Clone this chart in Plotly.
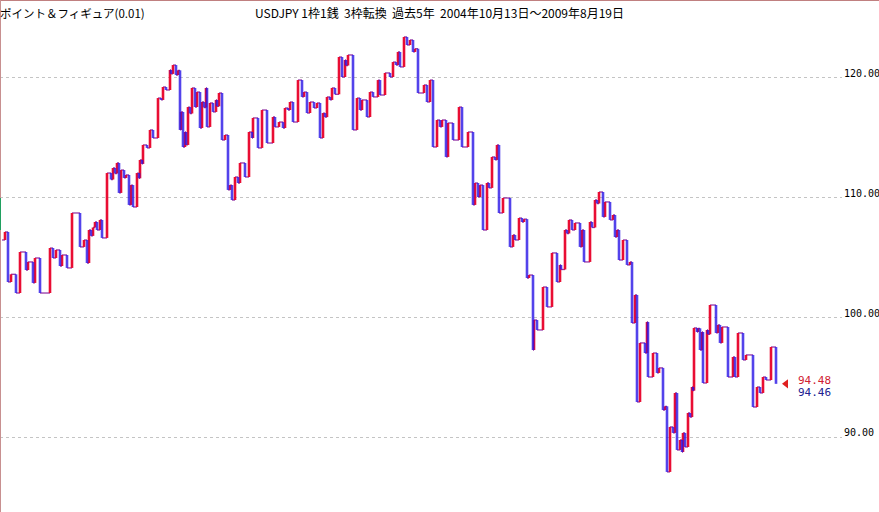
import plotly.graph_objects as go

# P&F column positions (column number, scaled) and column extreme prices (USDJPY)
column_pos = [2, 5, 8, 11, 16, 20, 26, 28, 33, 35, 40, 50, 53, 56, 60, 62, 67, 72, 80, 84,
              87, 89, 91, 93, 95, 97, 100, 102, 107, 111, 113, 115, 117, 119, 121, 124, 126, 129, 131, 133,
              137, 139, 140, 142, 143, 147, 150, 153, 158, 161, 163, 166, 170, 171, 173, 176, 178, 180, 181, 183,
              185, 186, 188, 190, 192, 195, 197, 200, 202, 204, 206, 207, 210, 213, 216, 217, 219, 222, 225, 228,
              230, 232, 235, 238, 240, 245, 249, 252, 253, 258, 262, 267, 273, 275, 279, 283, 285, 288, 290, 293,
              298, 302, 304, 307, 310, 314, 317, 320, 323, 325, 327, 330, 332, 335, 339, 342, 345, 346, 348, 353,
              357, 360, 362, 367, 370, 373, 378, 380, 385, 390, 393, 396, 398, 400, 404, 407, 410, 413, 415, 418,
              424, 427, 430, 433, 437, 440, 442, 446, 448, 453, 459, 462, 468, 473, 475, 478, 480, 483, 487, 489,
              492, 495, 497, 499, 503, 510, 513, 515, 519, 522, 524, 527, 529, 533, 534, 537, 543, 547, 552, 557,
              560, 561, 565, 567, 569, 572, 575, 580, 582, 584, 590, 592, 595, 597, 599, 603, 605, 610, 613, 615,
              617, 619, 623, 627, 630, 632, 635, 637, 640, 645, 647, 648, 653, 657, 659, 663, 665, 667, 670, 673,
              675, 677, 680, 682, 683, 685, 688, 690, 692, 693, 694, 697, 698, 700, 702, 703, 707, 708, 710, 716,
              718, 720, 722, 728, 733, 735, 738, 743, 746, 753, 757, 760, 763, 766, 771, 776]

prices = [106.46, 107.13, 102.96, 103.60, 102.04, 105.46, 103.96, 104.63, 102.88, 104.96, 102.04, 105.79, 104.96, 105.63, 104.29, 105.21, 104.13, 108.71, 105.88, 106.46,
          104.54, 107.29, 106.80, 107.50, 107.96, 107.29, 108.13, 106.63, 112.04, 111.50, 112.46, 112.00, 112.88, 110.38, 112.29, 111.63, 111.88, 109.38, 111.04, 109.21,
          112.04, 111.60, 113.13, 112.80, 114.38, 114.13, 115.63, 114.96, 118.29, 118.13, 119.21, 118.96, 120.63, 120.30, 121.04, 120.21, 120.60, 115.63, 117.13, 114.21,
          115.46, 114.38, 117.54, 117.00, 119.13, 117.54, 118.79, 115.79, 117.96, 117.50, 119.13, 115.88, 117.88, 117.13, 118.13, 117.60, 118.71, 114.79, 115.21, 110.63,
          111.04, 109.79, 111.71, 111.21, 112.88, 111.71, 115.46, 114.96, 116.63, 114.13, 117.29, 114.54, 116.71, 115.88, 116.29, 115.79, 117.46, 117.29, 117.96, 116.29,
          119.79, 118.38, 118.79, 117.04, 117.96, 117.46, 117.88, 114.96, 117.04, 116.70, 118.38, 118.13, 119.13, 118.60, 121.71, 120.04, 121.46, 121.00, 121.88, 115.63,
          118.29, 117.29, 118.13, 116.71, 118.79, 118.38, 119.79, 118.54, 120.38, 120.04, 121.29, 121.04, 122.13, 120.88, 123.38, 122.71, 123.13, 122.13, 122.40, 118.71,
          119.38, 117.96, 119.79, 114.21, 116.46, 115.88, 116.46, 113.38, 116.21, 114.79, 117.54, 114.21, 115.46, 109.38, 111.21, 110.04, 111.04, 107.29, 111.21, 110.80,
          113.38, 113.13, 114.38, 108.71, 109.96, 105.88, 106.88, 106.46, 108.29, 107.96, 108.20, 103.29, 103.54, 97.29, 99.79, 98.96, 102.54, 100.88, 105.38, 102.96,
          104.38, 104.00, 107.29, 107.00, 108.13, 107.29, 107.88, 105.88, 107.29, 104.63, 107.96, 107.50, 109.79, 109.50, 110.46, 108.38, 109.63, 108.13, 108.54, 106.71,
          107.29, 104.79, 106.46, 104.38, 104.63, 99.54, 101.88, 92.96, 97.88, 97.04, 99.63, 95.04, 97.04, 95.38, 95.80, 92.29, 92.60, 87.13, 90.88, 90.38,
          93.71, 88.96, 89.79, 88.79, 90.38, 89.21, 92.04, 91.70, 94.21, 93.90, 99.13, 98.79, 99.10, 97.29, 98.79, 94.54, 98.96, 98.60, 101.04, 98.71,
          99.38, 97.88, 99.21, 95.04, 96.71, 95.04, 98.71, 96.46, 96.88, 92.54, 94.21, 93.71, 95.04, 94.79, 97.54, 94.47]

grid_levels = [90, 100, 110, 120]
grid_labels = ["90.00", "100.00", "110.00", "120.00"]
last_x_label = "94.48"
last_o_label = "94.46"
title_left = "ポイント＆フィギュア(0.01)"
title_main = "USDJPY 1枠1銭  3枠転換  過去5年  2004年10月13日～2009年8月19日"

up_x, up_y, dn_x, dn_y, hz_x, hz_y = [], [], [], [], [], []
for i in range(1, len(prices)):
    hz_x += [column_pos[i - 1], column_pos[i], None]
    hz_y += [prices[i - 1], prices[i - 1], None]
    vx = [column_pos[i], column_pos[i], None]
    vy = [prices[i - 1], prices[i], None]
    if prices[i] >= prices[i - 1]:
        up_x += vx
        up_y += vy
    else:
        dn_x += vx
        dn_y += vy

fig = go.Figure()
fig.add_trace(go.Scatter(x=hz_x, y=hz_y, mode="lines", line=dict(color="rgba(130,20,150,0.85)", width=1.3),
                         hoverinfo="skip", showlegend=False))
fig.add_trace(go.Scatter(x=up_x, y=up_y, mode="lines", line=dict(color="rgba(232,0,40,0.95)", width=2.6),
                         hoverinfo="skip", showlegend=False))
fig.add_trace(go.Scatter(x=dn_x, y=dn_y, mode="lines", line=dict(color="rgba(40,20,230,0.8)", width=2.6),
                         hoverinfo="skip", showlegend=False))

last_x = column_pos[-1]
last_p = prices[-1]
fig.add_trace(go.Scatter(x=[last_x + 10], y=[last_p], mode="markers",
                         marker=dict(symbol="triangle-left", size=8, color="#e02020"),
                         hoverinfo="skip", showlegend=False))

annotations = []
for lv, lb in zip(grid_levels, grid_labels):
    annotations.append(dict(x=1, xref="paper", y=lv, yref="y", text=lb, showarrow=False,
                            xanchor="left", yanchor="bottom", xshift=0, yshift=-3,
                            font=dict(family="DejaVu Sans Mono", size=10, color="#000000")))
annotations.append(dict(x=last_x + 20, y=last_p, text=last_x_label, showarrow=False, xanchor="left",
                        yanchor="middle", yshift=3,
                        font=dict(family="DejaVu Sans Mono", size=11, color="#d02030")))
annotations.append(dict(x=last_x + 20, y=last_p, text=last_o_label, showarrow=False, xanchor="left",
                        yanchor="middle", yshift=-9,
                        font=dict(family="DejaVu Sans Mono", size=11, color="#202090")))
annotations.append(dict(x=0, xref="paper", y=1, yref="paper", text=title_left, showarrow=False,
                        xanchor="left", yanchor="top", yshift=-3, xshift=-2,
                        font=dict(family="Noto Sans CJK JP", size=11.5, color="#000000")))
annotations.append(dict(x=253 / 842, xref="paper", y=1, yref="paper", text=title_main, showarrow=False,
                        xanchor="left", yanchor="top", yshift=-2,
                        font=dict(family="Noto Sans CJK JP", size=12, color="#000000")))

shapes = [
    dict(type="line", xref="paper", yref="paper", x0=0, x1=879 / 842, y0=1, y1=1,
         line=dict(color="#c08080", width=2)),
    dict(type="line", xref="paper", yref="paper", x0=0, x1=0, y0=0, y1=1,
         line=dict(color="#c89090", width=2)),
    dict(type="line", xref="paper", yref="y", x0=0, x1=0, y0=107.29, y1=109.96,
         line=dict(color="#20a060", width=2)),
]

fig.update_layout(
    width=879, height=512,
    margin=dict(l=0, r=37, t=0, b=0, autoexpand=False),
    paper_bgcolor="white", plot_bgcolor="white",
    xaxis=dict(range=[0, 842], showgrid=False, zeroline=False, showticklabels=False, showline=False, fixedrange=True),
    yaxis=dict(range=[83.79, 126.46], tickvals=grid_levels, showgrid=True, gridcolor="#c4c4c4", griddash="dot",
               gridwidth=1, zeroline=False, showticklabels=False, showline=False, fixedrange=True),
    annotations=annotations, shapes=shapes,
)

fig.write_html("out.html", config={"displayModeBar": False},
               post_script="document.body.style.margin='0';document.body.style.padding='0';")
